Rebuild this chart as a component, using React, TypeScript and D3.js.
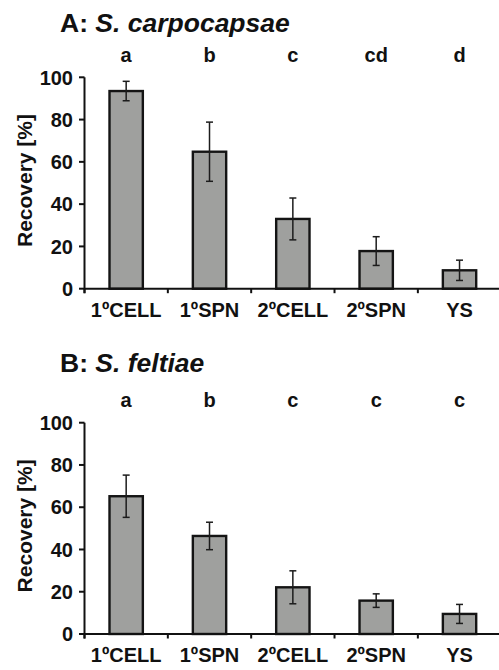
import React from "react";
import * as d3 from "d3";

const categories = ["1ºCELL", "1ºSPN", "2ºCELL", "2ºSPN", "YS"];
const yTicks = [0, 20, 40, 60, 80, 100];

const valuesA = [93.5, 64.8, 33.0, 17.8, 8.7];
const errorsA = [4.6, 14.0, 9.9, 6.8, 4.8];
const lettersA = ["a", "b", "c", "cd", "d"];

const valuesB = [65.2, 46.4, 22.1, 15.8, 9.5];
const errorsB = [10.0, 6.5, 7.8, 3.2, 4.5];
const lettersB = ["a", "b", "c", "c", "c"];

const FONT = "'Liberation Sans', Arial, Helvetica, sans-serif";

type PanelProps = {
  prefix: string;
  species: string;
  values: number[];
  errors: number[];
  letters: string[];
  y0: number;
  y100: number;
  titleY: number;
};

function Panel({ prefix, species, values, errors, letters, y0, y100, titleY }: PanelProps) {
  const x = d3
    .scaleBand<string>()
    .domain(categories)
    .range([84.5, 501.2])
    .paddingInner(0.6)
    .paddingOuter(0.3);
  const y = d3.scaleLinear().domain([0, 100]).range([y0, y100]);
  const gap = (x.step() - x.bandwidth()) / 2;
  const boundaries = categories.map((c) => (x(c) as number) - gap);
  boundaries.push((x(categories[categories.length - 1]) as number) + x.bandwidth() + gap);
  const axisX = 84.5;

  return (
    <g fontFamily={FONT} fontWeight="bold" fill="#111">
      <text x={60} y={titleY} fontSize={26.5}>
        {prefix}
        <tspan fontStyle="italic">{species}</tspan>
      </text>
      {letters.map((l, i) => (
        <text
          key={"l" + i}
          x={(x(categories[i]) as number) + x.bandwidth() / 2}
          y={y100 - 15.5}
          fontSize={20}
          textAnchor="middle"
        >
          {l}
        </text>
      ))}
      {/* bars */}
      {values.map((v, i) => (
        <rect
          key={"b" + i}
          x={x(categories[i]) as number}
          y={y(v)}
          width={x.bandwidth()}
          height={y0 - y(v)}
          fill="#9fa09e"
          stroke="#141414"
          strokeWidth={2.4}
        />
      ))}
      {/* error bars */}
      {values.map((v, i) => {
        const cx = (x(categories[i]) as number) + x.bandwidth() / 2;
        const top = y(v + errors[i]);
        const bot = y(v - errors[i]);
        return (
          <g key={"e" + i} stroke="#1c1c1c" strokeWidth={1.5}>
            <line x1={cx} x2={cx} y1={top} y2={bot} />
            <line x1={cx - 3.5} x2={cx + 3.5} y1={top} y2={top} />
            <line x1={cx - 3.5} x2={cx + 3.5} y1={bot} y2={bot} />
          </g>
        );
      })}
      {/* y axis */}
      <line x1={axisX} x2={axisX} y1={y100} y2={y0 + 4.5} stroke="#111" strokeWidth={2} />
      {yTicks.map((t) => (
        <g key={"t" + t}>
          <line x1={axisX - 5.5} x2={axisX} y1={y(t)} y2={y(t)} stroke="#111" strokeWidth={2} />
          <text x={73} y={y(t)} dy="0.36em" fontSize={20} textAnchor="end">
            {t}
          </text>
        </g>
      ))}
      {/* x axis */}
      <line x1={axisX} x2={499} y1={y0} y2={y0} stroke="#111" strokeWidth={2} />
      {boundaries.map((b, i) => (
        <line key={"xb" + i} x1={b} x2={b} y1={y0} y2={y0 + 4.5} stroke="#111" strokeWidth={2} />
      ))}
      {categories.map((c) => (
        <text
          key={"c" + c}
          x={(x(c) as number) + x.bandwidth() / 2}
          y={y0 + 28}
          fontSize={20}
          textAnchor="middle"
        >
          {c}
        </text>
      ))}
      <text
        transform={`translate(32,${(y0 + y100) / 2 - 2.5}) rotate(-90)`}
        fontSize={21}
        textAnchor="middle"
      >
        Recovery [%]
      </text>
    </g>
  );
}

export default function App() {
  return (
    <svg
      width={499}
      height={670}
      style={{ position: "absolute", left: 0, top: 0, background: "#fff" }}
    >
      <rect width={499} height={670} fill="#fff" />
      <Panel
        prefix="A: "
        species="S. carpocapsae"
        values={valuesA}
        errors={errorsA}
        letters={lettersA}
        y0={288.7}
        y100={77.3}
        titleY={31.7}
      />
      <Panel
        prefix="B: "
        species="S. feltiae"
        values={valuesB}
        errors={errorsB}
        letters={lettersB}
        y0={634}
        y100={422.7}
        titleY={371.7}
      />
    </svg>
  );
}
